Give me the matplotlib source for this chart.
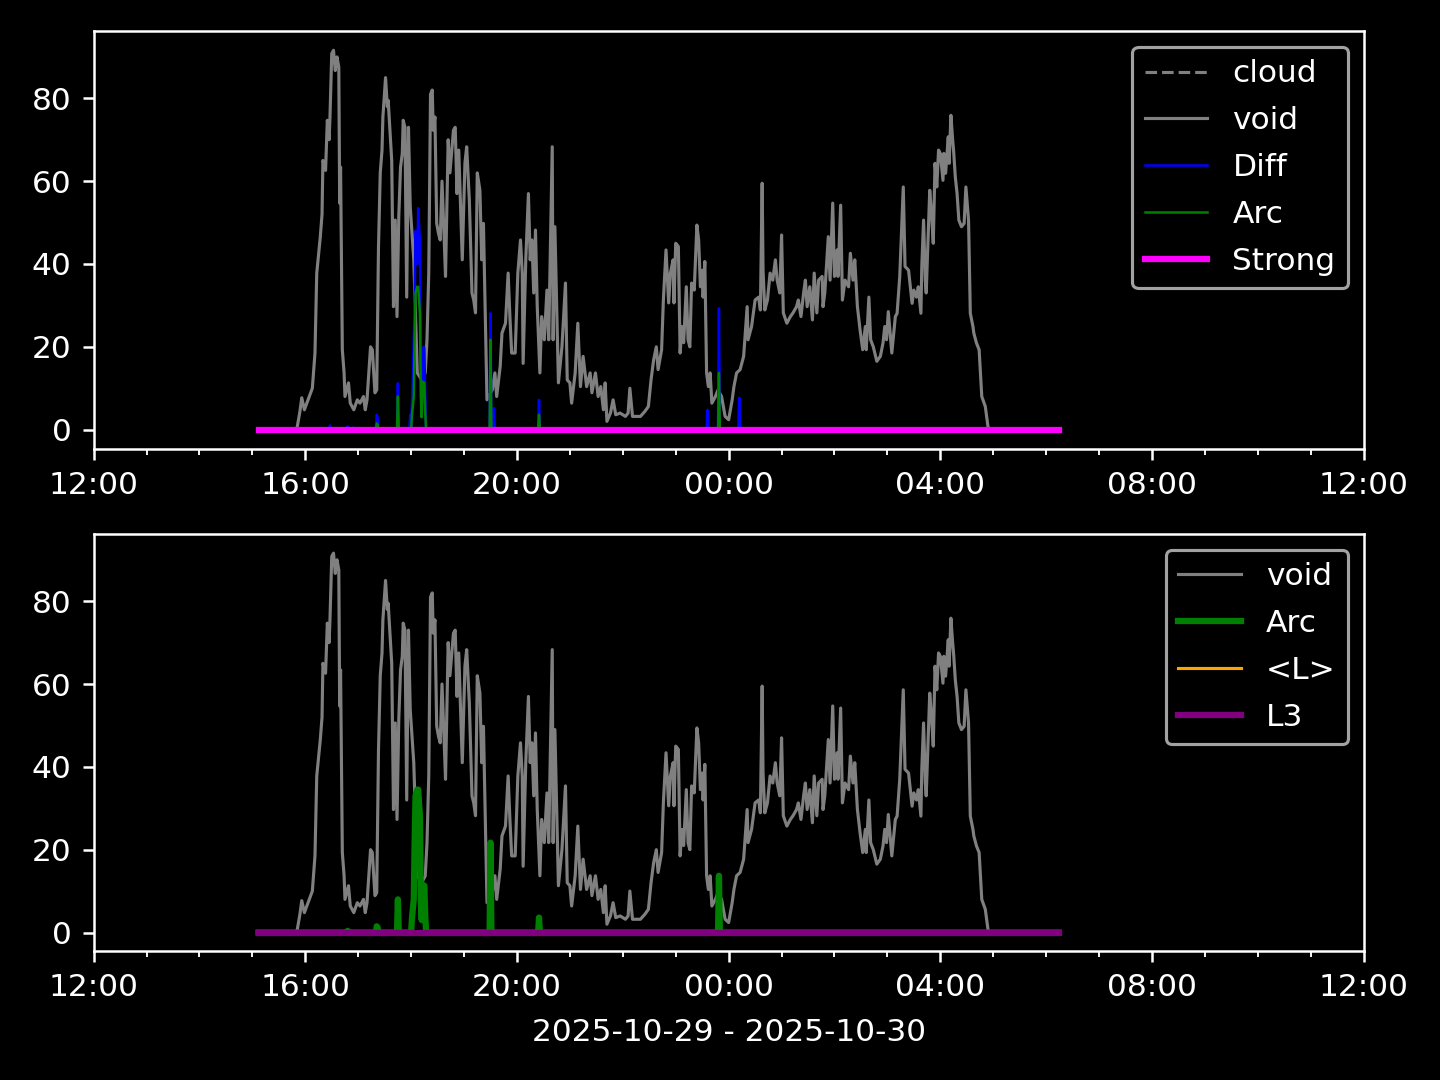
import matplotlib
matplotlib.use("Agg")
import matplotlib.pyplot as plt
import matplotlib.dates as mdates
import pandas as pd

plt.style.use("dark_background")

# --- data -----------------------------------------------------------------
# void signal (clock times, evening of 10-29 into morning of 10-30)
void_t = ["15:07", "15:50", "15:51", "15:54", "15:56", "15:59", "16:08", "16:11", "16:13", "16:17",
          "16:19", "16:20", "16:23", "16:25", "16:27", "16:28", "16:30", "16:32", "16:34", "16:36",
          "16:38", "16:39", "16:40", "16:42", "16:44", "16:45", "16:49", "16:51", "16:55", "16:59",
          "17:02", "17:06", "17:08", "17:10", "17:14", "17:16", "17:19", "17:21", "17:23", "17:25",
          "17:27", "17:28", "17:31", "17:33", "17:34", "17:36", "17:38", "17:40", "17:42", "17:44",
          "17:46", "17:48", "17:50", "17:51", "17:53", "17:55", "17:57", "17:59", "18:03", "18:07",
          "18:12", "18:16", "18:18", "18:20", "18:22", "18:24", "18:25", "18:27", "18:29", "18:31",
          "18:33", "18:35", "18:37", "18:39", "18:41", "18:42", "18:44", "18:48", "18:50", "18:52",
          "18:54", "18:58", "19:01", "19:03", "19:06", "19:09", "19:11", "19:13", "19:15", "19:18",
          "19:20", "19:22", "19:24", "19:26", "19:32", "19:35", "19:37", "19:41", "19:43", "19:47",
          "19:50", "19:52", "19:54", "19:58", "20:01", "20:04", "20:06", "20:07", "20:10", "20:13",
          "20:15", "20:17", "20:19", "20:21", "20:23", "20:26", "20:28", "20:31", "20:34", "20:36",
          "20:40", "20:41", "20:43", "20:47", "20:51", "20:55", "20:57", "21:00", "21:02", "21:06",
          "21:09", "21:12", "21:15", "21:19", "21:23", "21:25", "21:29", "21:32", "21:35", "21:38",
          "21:40", "21:42", "21:46", "21:49", "21:52", "21:57", "22:03", "22:06", "22:08", "22:11",
          "22:20", "22:25", "22:29", "22:32", "22:35", "22:38", "22:40", "22:44", "22:46", "22:49",
          "22:52", "22:54", "22:57", "22:58", "23:00", "23:03", "23:05", "23:07", "23:09", "23:12",
          "23:14", "23:16", "23:18", "23:21", "23:24", "23:26", "23:28", "23:30", "23:31", "23:33",
          "23:35", "23:37", "23:39", "23:41", "23:45", "23:48", "23:52", "23:56", "00:00", "00:04",
          "00:06", "00:09", "00:13", "00:17", "00:21", "00:22", "00:26", "00:30", "00:34", "00:36",
          "00:38", "00:39", "00:41", "00:44", "00:47", "00:50", "00:53", "00:55", "00:58", "01:00",
          "01:02", "01:06", "01:10", "01:13", "01:17", "01:19", "01:22", "01:25", "01:27", "01:29",
          "01:32", "01:35", "01:37", "01:40", "01:42", "01:46", "01:47", "01:49", "01:53", "01:55",
          "01:58", "02:00", "02:03", "02:04", "02:07", "02:09", "02:12", "02:16", "02:18", "02:21",
          "02:23", "02:26", "02:29", "02:32", "02:35", "02:36", "02:39", "02:41", "02:44", "02:48",
          "02:52", "02:55", "02:57", "02:59", "03:01", "03:05", "03:09", "03:11", "03:14", "03:18",
          "03:20", "03:24", "03:28", "03:30", "03:33", "03:35", "03:38", "03:39", "03:41", "03:43",
          "03:44", "03:46", "03:48", "03:50", "03:52", "03:54", "03:56", "03:58", "04:00", "04:03",
          "04:04", "04:06", "04:09", "04:10", "04:12", "04:14", "04:15", "04:17", "04:19", "04:21",
          "04:24", "04:27", "04:29", "04:32", "04:34", "04:37", "04:38", "04:41", "04:44", "04:47",
          "04:51", "04:54", "04:55", "06:14"]
void_v = [0, 0, 0.8, 4.5, 7.7, 4.8, 10, 18.5, 37.8, 46.5,
          52, 65, 62.6, 74.7, 70, 75.5, 90.8, 91.6, 86.7, 90,
          87.5, 54.7, 63.4, 19.3, 13.7, 8, 11.3, 6.4, 4.8, 7.2,
          6.4, 8, 4.8, 7.2, 20, 19.3, 8.9, 9.6, 44, 62,
          67.5, 75.5, 85, 78, 79.5, 72.3, 65, 29.7, 50.6, 27.3,
          51.4, 63.4, 66.7, 74.7, 73, 32, 73, 53.8, 41, 13.7,
          12, 13.7, 21.7, 37.8, 81, 82, 72.3, 75.5, 49.8, 47.4,
          45.8, 60, 49, 37, 59.5, 70, 62, 72.3, 73, 57,
          67.5, 41, 64.3, 68.3, 55.4, 33, 31.3, 28.2, 62, 57.8,
          41, 49.8, 28.2, 7.2, 9.6, 13.7, 8, 15.3, 23.3, 25.7,
          37.8, 27.3, 18.5, 18.5, 37.8, 45.8, 37.8, 16, 41, 57,
          41, 45.8, 33, 48.2, 29.7, 13.7, 27.3, 21.7, 33.7, 21.7,
          68.3, 21.7, 49, 11.3, 20, 35.4, 12, 11.3, 6.4, 13.7,
          25.7, 10.4, 17.7, 10.4, 13.7, 8.9, 13.7, 8, 10.4, 4.8,
          11.3, 2, 4, 7.2, 3.6, 4, 3.2, 4, 10, 3.2,
          3.2, 4.4, 5.6, 12, 16.9, 20, 14.5, 19.3, 31.3, 43.4,
          30.6, 37.8, 41, 30.6, 45, 44.2, 18.5, 24.9, 21, 34.5,
          21.7, 20, 35.4, 33.7, 49.4, 45.8, 34.5, 38.5, 32, 40.6,
          13.7, 10.4, 13.7, 6.4, 8, 9.6, 8, 3.2, 2.4, 7.2,
          10.4, 13.7, 14.5, 17.7, 29.7, 21.7, 24.9, 31.3, 32, 28.9,
          59.5, 38.5, 28.9, 31.3, 37.8, 36.1, 41, 36.1, 33, 47,
          28.2, 25.7, 27.3, 28.2, 29.7, 31.3, 27.3, 33, 36.1, 29.7,
          34.5, 26.5, 37.8, 28.2, 36.1, 37, 29.7, 33, 46.6, 36.1,
          54.7, 37, 43.4, 37, 54.2, 31.3, 36.1, 34.5, 42.6, 36.1,
          41, 29.7, 24.1, 19.3, 24.9, 19.3, 32, 21.7, 20, 16.5,
          17.7, 20.9, 24.9, 21.7, 28.5, 18.5, 27.3, 28.1, 37, 58.6,
          39.4, 38.5, 30.5, 33.7, 32, 34.5, 28.1, 39.4, 50.6, 36.1,
          33, 45.8, 57.8, 52.2, 45, 64.3, 58.6, 67.5, 66.7, 60.2,
          66.7, 61.9, 70.7, 64.3, 75.9, 69.9, 67.5, 61, 57, 50.6,
          49, 49.8, 58.6, 50.6, 28.1, 24.9, 23.3, 20.9, 19.3, 8,
          5.6, 0.8, 0, 0]

# Diff spikes
diff_t = ["15:07", "16:27", "16:28", "16:29", "16:47", "16:48", "16:49", "16:53", "16:54", "16:55",
          "17:20", "17:21", "17:22", "17:23", "17:44", "17:45", "17:46", "17:58", "17:59", "18:00",
          "18:02", "18:04", "18:05", "18:07", "18:08", "18:10", "18:11", "18:12", "18:13", "18:14",
          "18:15", "18:16", "18:17", "19:29", "19:30", "19:31", "19:33", "19:34", "19:35", "20:24",
          "20:25", "20:26", "23:35", "23:36", "23:37", "23:48", "23:49", "23:50", "00:11", "00:12",
          "00:13", "06:14"]
diff_v = [0, 0, 1.0, 0, 0, 0.8, 0, 0, 0.5, 0,
          0, 3.6, 3.0, 0, 0, 11.2, 0, 0, 3.6, 0.5,
          12.8, 30, 48, 40, 53.5, 45, 18, 6, 12, 20,
          19.7, 8, 0, 0, 28.1, 0, 0, 5.2, 0, 0,
          7.2, 0, 0, 4.8, 0, 0, 29.3, 0, 0, 7.7,
          0, 0]

# Arc spikes
arc_t = ["15:07", "16:47", "16:48", "16:49", "17:20", "17:21", "17:22", "17:23", "17:44", "17:45",
         "17:46", "18:00", "18:01", "18:03", "18:04", "18:05", "18:07", "18:08", "18:10", "18:11",
         "18:12", "18:13", "18:15", "18:16", "18:17", "19:29", "19:30", "19:31", "20:24", "20:25",
         "20:26", "23:48", "23:49", "23:50", "06:14"]
arc_v = [0, 0, 0.4, 0, 0, 1.5, 1.2, 0, 0, 8.0,
         0, 0, 3.6, 8, 22, 33, 34.5, 34.5, 28, 8,
         3, 11.6, 11.3, 4, 0, 0, 21.7, 0, 0, 3.6,
         0, 0, 13.7, 0, 0]

# flat series (start / end of record)
flat_t = ["15:07", "06:14"]
flat_v = [0, 0]

day0 = "2025-10-29"
day1 = "2025-10-30"


def to_dt(times):
    out = []
    for t in times:
        day = day0 if int(t[:2]) >= 12 else day1
        out.append(pd.Timestamp(day + " " + t))
    return out


void_x = to_dt(void_t)
diff_x = to_dt(diff_t)
arc_x = to_dt(arc_t)
flat_x = to_dt(flat_t)

fig, (ax1, ax2) = plt.subplots(2, 1, figsize=(6.4, 4.8), dpi=225)

# top panel
ax1.plot(flat_x, flat_v, color="gray", lw=1, ls="--", label="cloud")
ax1.plot(void_x, void_v, color="gray", lw=1, label="void")
ax1.plot(diff_x, diff_v, color="blue", lw=0.8, label="Diff")
ax1.plot(arc_x, arc_v, color="green", lw=0.8, label="Arc")
ax1.plot(flat_x, flat_v, color="magenta", lw=2, label="Strong")
ax1.legend(loc="upper right", labelspacing=0.57)

# bottom panel
ax2.plot(void_x, void_v, color="gray", lw=1, label="void")
ax2.plot(arc_x, arc_v, color="green", lw=2, label="Arc")
ax2.plot(flat_x, flat_v, color="orange", lw=1, label="<L>")
ax2.plot(flat_x, flat_v, color="purple", lw=2, label="L3")
ax2.legend(loc="upper right", labelspacing=0.57)
ax2.set_xlabel(day0 + " - " + day1, labelpad=5)

for ax in (ax1, ax2):
    ax.set_xlim(pd.Timestamp(day0 + " 12:00"), pd.Timestamp(day1 + " 12:00"))
    ax.xaxis.set_major_locator(mdates.HourLocator(byhour=range(0, 24, 4)))
    ax.xaxis.set_minor_locator(mdates.HourLocator())
    ax.xaxis.set_major_formatter(mdates.DateFormatter("%H:%M"))

plt.subplots_adjust(left=0.065, right=0.947, top=0.971, bottom=0.119, hspace=0.205)
plt.savefig("out.png", dpi=225)
